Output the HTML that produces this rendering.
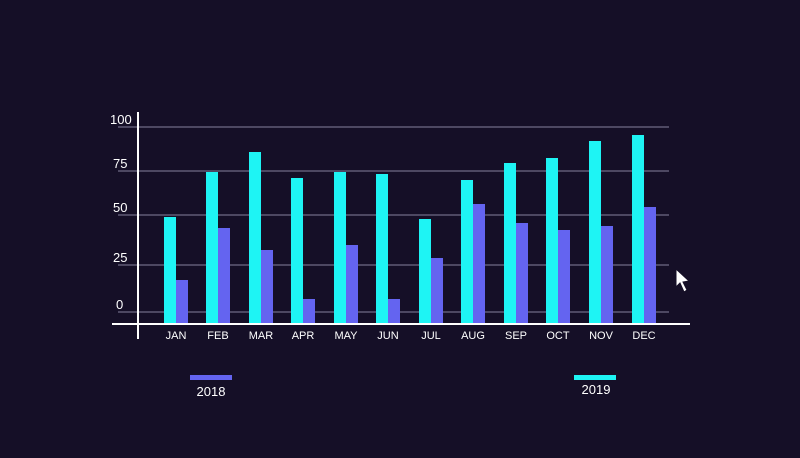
<!DOCTYPE html>
<html><head><meta charset="utf-8"><style>
html,body{margin:0;padding:0;background:#150f27;}
svg{display:block}
text{font-family:"Liberation Sans",sans-serif;fill:#fff}
</style></head><body>
<svg width="800" height="458" viewBox="0 0 800 458" xmlns="http://www.w3.org/2000/svg">
<rect width="800" height="458" fill="#150f27"/>
<g stroke="#4d4862" stroke-width="2">
<line x1="118" y1="127" x2="669" y2="127"/>
<line x1="118" y1="171" x2="669" y2="171"/>
<line x1="118" y1="215" x2="669" y2="215"/>
<line x1="118" y1="265" x2="669" y2="265"/>
<line x1="118" y1="312" x2="669" y2="312"/>
</g>
<g font-size="13">
<text x="110" y="124">100</text>
<text x="113" y="168">75</text>
<text x="113" y="212">50</text>
<text x="113" y="262">25</text>
<text x="116" y="309">0</text>
</g>
<g fill="#1ef4f4">
<rect x="164" y="217" width="12" height="106"/>
<rect x="206" y="172" width="12" height="151"/>
<rect x="249" y="152" width="12" height="171"/>
<rect x="291" y="178" width="12" height="145"/>
<rect x="334" y="172" width="12" height="151"/>
<rect x="376" y="174" width="12" height="149"/>
<rect x="419" y="219" width="12" height="104"/>
<rect x="461" y="180" width="12" height="143"/>
<rect x="504" y="163" width="12" height="160"/>
<rect x="546" y="158" width="12" height="165"/>
<rect x="589" y="141" width="12" height="182"/>
<rect x="632" y="135" width="12" height="188"/>
</g>
<g fill="#6464f0">
<rect x="176" y="280" width="12" height="43"/>
<rect x="218" y="228" width="12" height="95"/>
<rect x="261" y="250" width="12" height="73"/>
<rect x="303" y="299" width="12" height="24"/>
<rect x="346" y="245" width="12" height="78"/>
<rect x="388" y="299" width="12" height="24"/>
<rect x="431" y="258" width="12" height="65"/>
<rect x="473" y="204" width="12" height="119"/>
<rect x="516" y="223" width="12" height="100"/>
<rect x="558" y="230" width="12" height="93"/>
<rect x="601" y="226" width="12" height="97"/>
<rect x="644" y="207" width="12" height="116"/>
</g>
<line x1="112" y1="324" x2="690" y2="324" stroke="#fff" stroke-width="2"/>
<line x1="138" y1="112" x2="138" y2="339" stroke="#fff" stroke-width="2"/>
<g font-size="11" text-anchor="middle">
<text x="176" y="339">JAN</text>
<text x="218" y="339">FEB</text>
<text x="261" y="339">MAR</text>
<text x="303" y="339">APR</text>
<text x="346" y="339">MAY</text>
<text x="388" y="339">JUN</text>
<text x="431" y="339">JUL</text>
<text x="473" y="339">AUG</text>
<text x="516" y="339">SEP</text>
<text x="558" y="339">OCT</text>
<text x="601" y="339">NOV</text>
<text x="644" y="339">DEC</text>
</g>
<rect x="190" y="375" width="42" height="5" fill="#6464f0"/>
<text x="211" y="396" font-size="13" text-anchor="middle">2018</text>
<rect x="574" y="375" width="42" height="5" fill="#1ef4f4"/>
<text x="596" y="394" font-size="13" text-anchor="middle">2019</text>
<path d="M676 269 L676 287 L680 283 L684 292 L687 290 L683 282 L689 281 Z" fill="#fff" stroke="#150f27" stroke-width="1"/>
</svg>
</body></html>
